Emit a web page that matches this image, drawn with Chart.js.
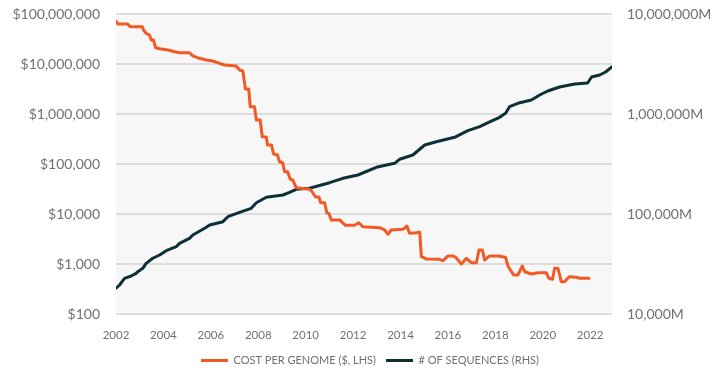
<!DOCTYPE html>
<html>
<head>
<meta charset="utf-8">
<script src="https://cdn.jsdelivr.net/npm/chart.js@4/dist/chart.umd.min.js"></script>
<style>
  html, body { margin: 0; padding: 0; background: #ffffff; }
  #wrap { width: 722px; height: 370px; position: relative; }
</style>
</head>
<body>
<div id="wrap"><canvas id="chart" width="722" height="370"></canvas></div>
<script>
// Cost per genome (US$), stepped series
const costYears = [
  2002.00, 2002.08, 2002.49, 2002.60, 2003.11, 2003.16, 2003.27, 2003.41, 2003.49, 2003.58,
  2003.67, 2003.84, 2004.19, 2004.47, 2004.68, 2005.10, 2005.24, 2005.52, 2005.81, 2006.08,
  2006.37, 2006.58, 2007.07, 2007.21, 2007.35, 2007.46, 2007.60, 2007.66, 2007.84, 2007.92,
  2008.08, 2008.17, 2008.34, 2008.39, 2008.56, 2008.65, 2008.81, 2008.90, 2009.03, 2009.11,
  2009.24, 2009.35, 2009.45, 2009.60, 2010.16, 2010.24, 2010.42, 2010.56, 2010.63, 2010.80,
  2010.89, 2010.98, 2011.08, 2011.43, 2011.68, 2012.06, 2012.24, 2012.41, 2013.12, 2013.33,
  2013.47, 2013.61, 2014.10, 2014.27, 2014.38, 2014.67, 2014.81, 2014.88, 2015.09, 2015.65,
  2015.79, 2016.00, 2016.21, 2016.31, 2016.57, 2016.78, 2016.99, 2017.20, 2017.31, 2017.45,
  2017.55, 2017.76, 2018.11, 2018.43, 2018.53, 2018.77, 2018.95, 2019.14, 2019.24, 2019.52,
  2019.80, 2020.15, 2020.26, 2020.41, 2020.50, 2020.64, 2020.78, 2020.92, 2021.11, 2021.42,
  2021.56, 2021.95
];
const costValues = [
  72400000, 63100000, 63100000, 55700000, 55700000, 47900000, 41100000, 38000000, 30200000, 30200000,
  21200000, 20200000, 19100000, 17600000, 16800000, 16800000, 14500000, 13000000, 12000000, 11500000,
  10300000, 9550000, 9120000, 7590000, 7240000, 3160000, 3160000, 1400000, 1400000, 759000,
  759000, 352000, 347000, 240000, 240000, 158000, 151000, 111000, 106000, 70100,
  70100, 49400, 47900, 33600, 31200, 29200, 21900, 21900, 16800, 16800,
  10600, 10300, 7590, 7590, 5940, 5940, 6700, 5570, 5320, 4790,
  3930, 4790, 4940, 5750, 4110, 4230, 4310, 1400, 1260, 1240,
  1160, 1450, 1450, 1380, 1000, 1300, 1060, 1060, 1910, 1910,
  1200, 1450, 1450, 1360, 912, 603, 603, 912, 701, 631,
  670, 670, 518, 494, 820, 820, 443, 443, 557, 542,
  518, 518
];

// Number of sequences, in millions
const seqYears = [
  2002.00, 2002.15, 2002.36, 2002.64, 2002.85, 2002.92, 2003.13, 2003.27, 2003.55, 2003.84,
  2004.12, 2004.54, 2004.68, 2005.10, 2005.24, 2005.81, 2005.95, 2006.51, 2006.72, 2007.21,
  2007.70, 2007.92, 2008.34, 2009.04, 2009.32, 2009.60, 2010.16, 2011.01, 2011.57, 2012.20,
  2012.98, 2013.75, 2013.96, 2014.52, 2015.02, 2015.51, 2016.28, 2016.84, 2017.34, 2017.69,
  2018.18, 2018.43, 2018.60, 2019.03, 2019.52, 2019.87, 2020.21, 2020.71, 2021.35, 2021.89,
  2022.06, 2022.40, 2022.65, 2022.91
];
const seqValues = [
  18100, 19500, 22750, 24000, 25500, 26500, 28600, 32100, 36100, 38900,
  43000, 47100, 50900, 57100, 61700, 73600, 77600, 83800, 94000, 104000,
  114000, 129700, 146900, 154900, 164800, 176600, 180700, 205600, 227500, 245500,
  293100, 321400, 352400, 389000, 489800, 528400, 584800, 680800, 746500, 818800,
  926800, 1016000, 1183000, 1298000, 1380000, 1549000, 1698000, 1862000, 1995000, 2042000,
  2344000, 2455000, 2630000, 2951000
];

// Axis ticks
const yearTicks = [2002, 2004, 2006, 2008, 2010, 2012, 2014, 2016, 2018, 2020, 2022];
const costTicks = [100, 1000, 10000, 100000, 1000000, 10000000, 100000000];
const seqTicks = [10000, 100000, 1000000, 10000000];

const seriesNames = ['COST PER GENOME ($, LHS)', '# OF SEQUENCES (RHS)'];
const ORANGE = '#f15a24';
const NAVY = '#0c2f38';
const TICK_COLOR = '#717171';
const FONT = 'Lato, "Open Sans", sans-serif';

const toPoints = (xs, ys) => xs.map((x, i) => ({ x: x, y: ys[i] }));
const fmt = v => Number(v).toLocaleString('en-US');

// Fixed axis box: set width and drop the label overhang padding
const fixVertical = w => s => {
  s.width = w;
  s.paddingTop = 0;
  s.paddingBottom = 0;
};

// Grey plot background behind the series
const plotBackground = {
  id: 'plotBackground',
  beforeDraw(chart) {
    const a = chart.chartArea;
    const ctx = chart.ctx;
    ctx.save();
    ctx.fillStyle = '#f7f7f7';
    ctx.fillRect(a.left, a.top, a.right - a.left, a.bottom - a.top);
    ctx.restore();
  }
};

// Nudge the legend below the axis labels
const legendOffset = {
  id: 'legendOffset',
  afterLayout(chart) {
    const lg = chart.legend;
    if (!lg) return;
    lg.top += 6; lg.bottom += 6;
    lg.left += 9; lg.right += 9;
  }
};

new Chart(document.getElementById('chart'), {
  type: 'line',
  data: {
    datasets: [
      {
        label: seriesNames[0],
        data: toPoints(costYears, costValues),
        yAxisID: 'yL',
        borderColor: ORANGE,
        backgroundColor: ORANGE,
        borderWidth: 3,
        pointRadius: 0,
        tension: 0,
        borderJoinStyle: 'round',
        borderCapStyle: 'round'
      },
      {
        label: seriesNames[1],
        data: toPoints(seqYears, seqValues),
        yAxisID: 'yR',
        borderColor: NAVY,
        backgroundColor: NAVY,
        borderWidth: 3,
        pointRadius: 0,
        tension: 0,
        borderJoinStyle: 'round',
        borderCapStyle: 'round'
      }
    ]
  },
  options: {
    responsive: false,
    animation: false,
    events: [],
    layout: { padding: { top: 14, left: 0, right: 0, bottom: 0 } },
    scales: {
      x: {
        type: 'linear',
        min: 2002,
        max: 2022.92,
        grid: { display: false, drawTicks: false },
        border: { display: false },
        afterFit(s) { s.height = 25; },
        afterBuildTicks(s) { s.ticks = yearTicks.map(v => ({ value: v })); },
        ticks: {
          padding: 14,
          color: TICK_COLOR,
          font: { family: FONT, size: 11.5 },
          maxRotation: 0,
          autoSkip: false,
          callback: v => String(v)
        }
      },
      yL: {
        type: 'logarithmic',
        position: 'left',
        min: 100,
        max: 100000000,
        grid: { color: '#dddddd', lineWidth: 2, drawTicks: false },
        border: { display: false },
        afterFit: fixVertical(116),
        afterBuildTicks(s) { s.ticks = costTicks.map(v => ({ value: v })); },
        ticks: {
          padding: 16,
          color: TICK_COLOR,
          font: { family: FONT, size: 14 },
          callback: v => '$' + fmt(v)
        }
      },
      yR: {
        type: 'logarithmic',
        position: 'right',
        min: 10000,
        max: 10000000,
        grid: { display: false, drawTicks: false },
        border: { display: false },
        afterFit: fixVertical(110),
        afterBuildTicks(s) { s.ticks = seqTicks.map(v => ({ value: v })); },
        ticks: {
          padding: 15,
          color: TICK_COLOR,
          font: { family: FONT, size: 14 },
          callback: v => fmt(v) + 'M'
        }
      }
    },
    plugins: {
      tooltip: { enabled: false },
      legend: {
        position: 'bottom',
        labels: {
          boxWidth: 27,
          boxHeight: 3,
          padding: 10,
          color: TICK_COLOR,
          font: { family: FONT, size: 11 },
          generateLabels(chart) {
            return chart.data.datasets.map((ds, i) => ({
              text: ds.label,
              fillStyle: ds.borderColor,
              strokeStyle: ds.borderColor,
              fontColor: TICK_COLOR,
              lineWidth: 0,
              hidden: false,
              datasetIndex: i
            }));
          }
        }
      }
    }
  },
  plugins: [plotBackground, legendOffset]
});
</script>
</body>
</html>
